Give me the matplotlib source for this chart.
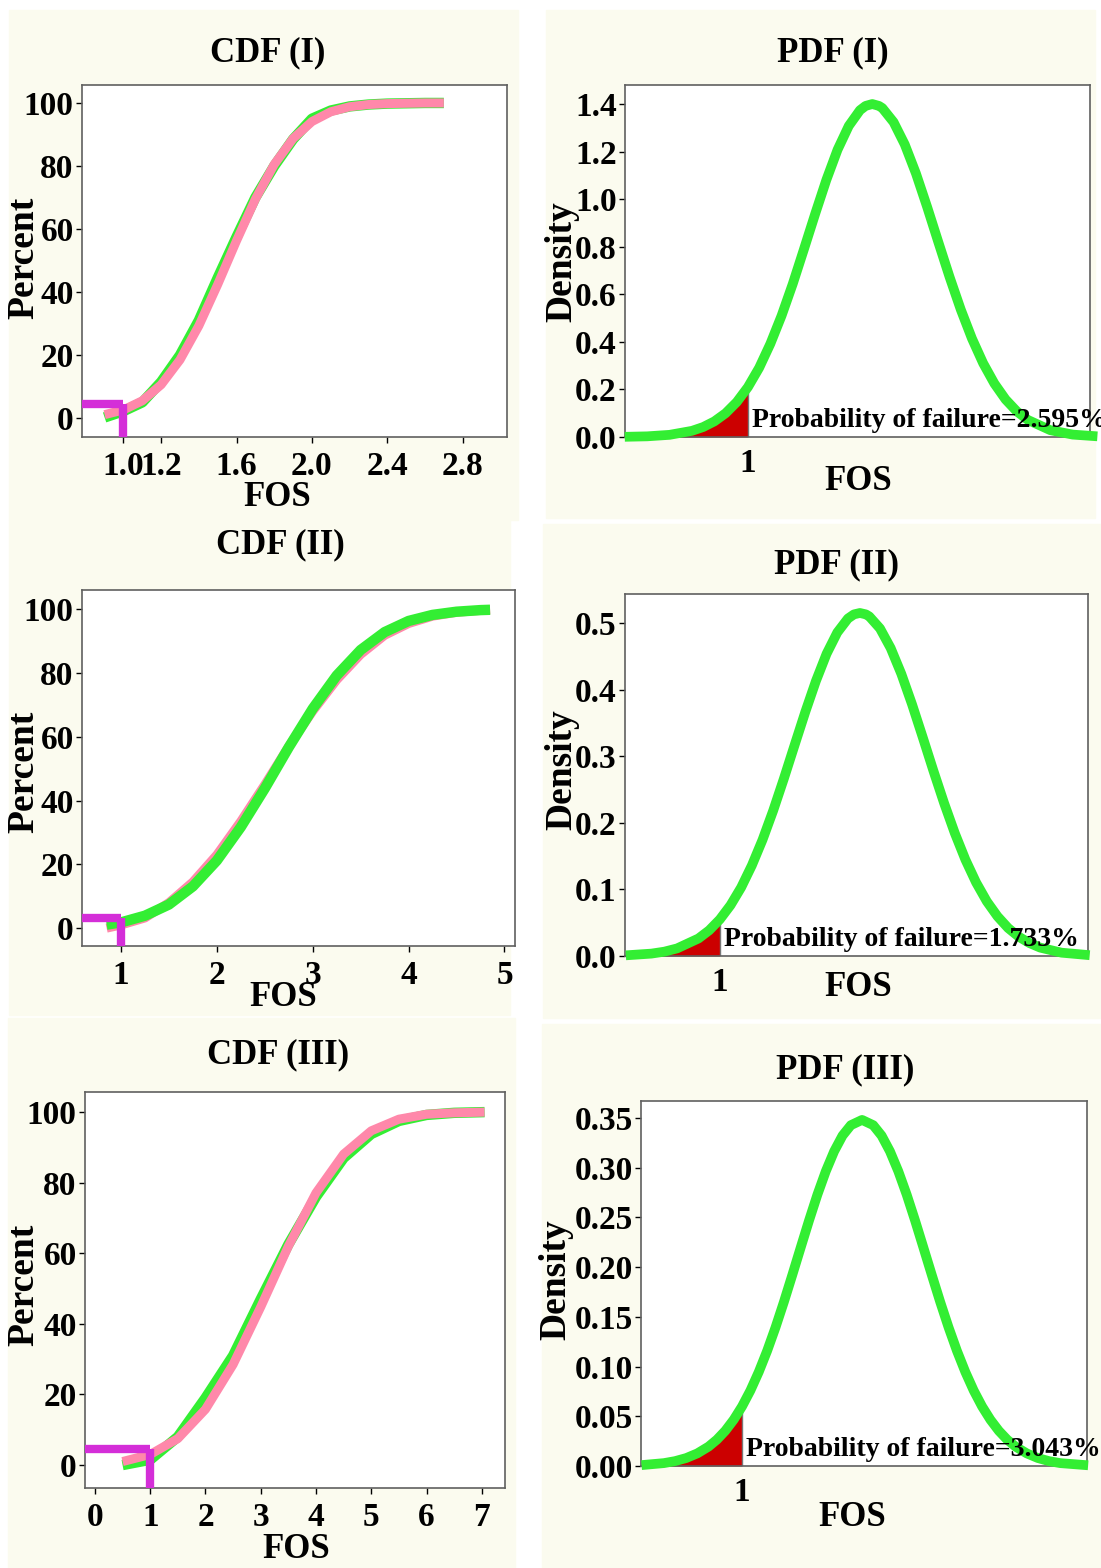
import matplotlib
matplotlib.use('Agg')
import matplotlib.pyplot as plt
from matplotlib.patches import Rectangle
import numpy as np

plt.rcParams['font.family'] = ['Liberation Serif', 'DejaVu Serif']
plt.rcParams['font.weight'] = 'bold'

W, H = 1101, 1568

# ---- CDF data (FOS, percent) ----
cdf1_x = [0.90, 1.00, 1.10, 1.20, 1.30, 1.40, 1.50, 1.60, 1.70, 1.80,
          1.90, 2.00, 2.10, 2.20, 2.30, 2.40, 2.50, 2.60, 2.70]
cdf1_fit = [1.1, 2.6, 5.5, 10.6, 18.5, 29.3, 42.4, 56.3, 69.5, 80.5,
            88.7, 94.1, 97.2, 98.8, 99.5, 99.8, 99.9, 100.0, 100.0]
cdf1_emp = [0.2, 2.2, 5.0, 11.5, 20.0, 31.0, 44.5, 57.5, 70.0, 80.0,
            88.5, 95.0, 97.6, 98.9, 99.5, 99.8, 99.9, 100.0, 100.0]

cdf2_x = [0.85, 1.00, 1.25, 1.50, 1.75, 2.00, 2.25, 2.50, 2.75, 3.00,
          3.25, 3.50, 3.75, 4.00, 4.25, 4.50, 4.75, 4.85]
cdf2_fit = [0.0, 1.0, 3.2, 8.0, 14.5, 23.0, 33.5, 45.0, 57.0, 68.0,
            77.8, 85.8, 91.8, 95.5, 97.8, 99.0, 99.6, 99.8]
cdf2_emp = [1.1, 1.8, 3.9, 7.4, 13.1, 21.2, 31.7, 43.8, 56.7, 68.8,
            79.2, 87.2, 92.8, 96.3, 98.2, 99.2, 99.7, 99.8]

cdf3_x = [0.5, 1.0, 1.5, 2.0, 2.5, 3.0, 3.5, 4.0, 4.5, 5.0, 5.5, 6.0, 6.5, 7.05]
cdf3_fit = [1.0, 3.0, 7.5, 15.8, 28.5, 44.8, 62.0, 77.1, 88.1, 94.7, 98.0, 99.4, 99.8, 100.0]
cdf3_emp = [0.0, 1.5, 8.0, 19.0, 31.0, 47.0, 62.5, 76.0, 87.0, 93.8, 97.5, 99.2, 99.8, 100.0]

# probability-of-failure marker level (%) and limit FOS
pf_marker = [4.4, 3.3, 4.5]
fos_limit = 1.0

# ---- PDF data (FOS, density) ----
pdf1_x = [0.45, 0.55, 0.65, 0.75, 0.80, 0.85, 0.90, 0.95, 1.00, 1.05,
          1.10, 1.15, 1.20, 1.25, 1.30, 1.35, 1.40, 1.45, 1.50, 1.525,
          1.555, 1.585, 1.60, 1.65, 1.70, 1.75, 1.80, 1.85, 1.90, 1.95,
          2.00, 2.05, 2.10, 2.15, 2.20, 2.25, 2.35, 2.45, 2.56]
pdf1_y = [0.0008, 0.0028, 0.0091, 0.0259, 0.0419, 0.0657, 0.0998, 0.147, 0.210, 0.291,
          0.392, 0.510, 0.644, 0.790, 0.938, 1.081, 1.208, 1.308, 1.374, 1.392,
          1.400, 1.392, 1.383, 1.324, 1.230, 1.108, 0.967, 0.819, 0.673, 0.536,
          0.414, 0.310, 0.225, 0.158, 0.108, 0.0716, 0.0286, 0.0101, 0.0028]

pdf2_x = [-0.10, 0.20, 0.35, 0.50, 0.75, 0.875, 1.00, 1.125, 1.25, 1.375,
          1.50, 1.625, 1.75, 1.875, 2.00, 2.125, 2.25, 2.375, 2.50, 2.57,
          2.64, 2.71, 2.75, 2.875, 3.00, 3.125, 3.25, 3.375, 3.50, 3.625,
          3.75, 3.875, 4.00, 4.125, 4.25, 4.375, 4.50, 4.625, 4.75, 5.00, 5.33]
pdf2_y = [0.0010, 0.0036, 0.0065, 0.0114, 0.0263, 0.0385, 0.0549, 0.0762, 0.103, 0.136,
          0.1745, 0.2184, 0.2664, 0.3165, 0.3662, 0.4129, 0.4538, 0.4857, 0.5067, 0.5129,
          0.515, 0.5129, 0.5098, 0.4918, 0.4623, 0.4235, 0.3779, 0.3285, 0.2782, 0.2297,
          0.1847, 0.1446, 0.1104, 0.0821, 0.0596, 0.0420, 0.0289, 0.0194, 0.0126, 0.0050, 0.0012]

pdf3_x = [-0.80, -0.40, -0.20, 0.00, 0.20, 0.40, 0.55, 0.70, 0.85, 1.00,
          1.15, 1.30, 1.45, 1.60, 1.75, 1.90, 2.05, 2.20, 2.35, 2.50,
          2.65, 2.80, 2.95, 3.15, 3.35, 3.50, 3.65, 3.80, 3.95, 4.10,
          4.25, 4.40, 4.55, 4.70, 4.85, 5.00, 5.15, 5.30, 5.45, 5.60,
          5.75, 5.90, 6.10, 6.30, 6.50, 6.70, 7.20]
pdf3_y = [0.0009, 0.0029, 0.0049, 0.0080, 0.0127, 0.0195, 0.0265, 0.0354, 0.0465, 0.0599,
          0.0759, 0.0946, 0.1158, 0.1394, 0.1650, 0.1920, 0.2195, 0.2468, 0.2728, 0.2963,
          0.3164, 0.3322, 0.3427, 0.348, 0.3427, 0.3322, 0.3164, 0.2963, 0.2728, 0.2468,
          0.2195, 0.1920, 0.1650, 0.1394, 0.1158, 0.0946, 0.0759, 0.0599, 0.0465, 0.0354,
          0.0265, 0.0195, 0.0127, 0.0080, 0.0049, 0.0029, 0.0007]

pf_labels = ['Probability of failure=2.595%',
             'Probability of failure=1.733%',
             'Probability of failure=3.043%']

green = '#33EE33'
pink = '#FF88AA'
magenta = '#D42ED8'
red = '#CC0000'
cream = '#FBFBEF'
frame = '#606060'

fig = plt.figure(figsize=(W / 100, H / 100), dpi=100, facecolor='white')


def px_axes(l, t, r, b):
    return fig.add_axes([l / W, 1 - b / H, (r - l) / W, (b - t) / H])


def ftext(x, y, s, size, rot=0):
    fig.text(x / W, 1 - y / H, s, fontsize=size, ha='center', va='center',
             rotation=rot, fontweight='bold')


# cream panel backgrounds
for (x0, y0, x1, y1) in [(9, 10, 518, 520), (546, 10, 1095, 518),
                         (9, 520, 510, 1015), (543, 524, 1101, 1018),
                         (8, 1018, 515, 1568), (542, 1024, 1101, 1568)]:
    fig.add_artist(Rectangle((x0 / W, 1 - y1 / H), (x1 - x0) / W, (y1 - y0) / H,
                             transform=fig.transFigure, color=cream, zorder=0))


def style(ax):
    for sp in ax.spines.values():
        sp.set_color(frame)
        sp.set_linewidth(1.2)
    ax.tick_params(colors='black', labelsize=24, length=4, width=1, pad=2)
    ax.set_facecolor('white')


# ---- CDF panels ----
cdf_specs = [
    ((82, 85, 507, 437), (0.78, 3.035), (-6, 105.7), cdf1_x, cdf1_emp, cdf1_fit,
     [1.0, 1.2, 1.6, 2.0, 2.4, 2.8], ['1.0', '1.2', '1.6', '2.0', '2.4', '2.8'], 'pink'),
    ((82, 590, 515, 946), (0.593, 5.11), (-5.6, 106), cdf2_x, cdf2_emp, cdf2_fit,
     [1, 2, 3, 4, 5], ['1', '2', '3', '4', '5'], 'green'),
    ((85, 1092, 505, 1488), (-0.18, 7.42), (-6.5, 105.7), cdf3_x, cdf3_emp, cdf3_fit,
     [0, 1, 2, 3, 4, 5, 6, 7], ['0', '1', '2', '3', '4', '5', '6', '7'], 'pink'),
]

for i, (box, xl, yl, xs, emp, fit, xt, xtl, top) in enumerate(cdf_specs):
    ax = px_axes(*box)
    style(ax)
    zg, zp = (2, 3) if top == 'pink' else (3, 2)
    ax.plot(xs, emp, color=green, lw=7.5, zorder=zg, solid_capstyle='butt',
            solid_joinstyle='round')
    ax.plot(xs, fit, color=pink, lw=6.5, zorder=zp, solid_capstyle='butt',
            solid_joinstyle='round')
    ax.plot([xl[0], fos_limit], [pf_marker[i], pf_marker[i]], color=magenta, lw=6,
            zorder=4, solid_capstyle='butt')
    ax.plot([fos_limit, fos_limit], [pf_marker[i], yl[0]], color=magenta, lw=6,
            zorder=4, solid_capstyle='butt')
    ax.set_xlim(*xl)
    ax.set_ylim(*yl)
    ax.set_xticks(xt)
    ax.set_xticklabels(xtl)
    ax.set_yticks([0, 20, 40, 60, 80, 100])
    ax.tick_params(axis='x', pad=6)

# ---- PDF panels ----
pdf_specs = [
    ((625, 85, 1090, 437), (0.451, 2.527), (0, 1.48), pdf1_x, pdf1_y,
     [0.0, 0.2, 0.4, 0.6, 0.8, 1.0, 1.2, 1.4], '{:.1f}'),
    ((625, 594, 1088, 956), (-0.11, 5.31), (0, 0.5435), pdf2_x, pdf2_y,
     [0.0, 0.1, 0.2, 0.3, 0.4, 0.5], '{:.1f}'),
    ((641, 1101, 1087, 1466), (-0.81, 7.18), (0, 0.367), pdf3_x, pdf3_y,
     [0.0, 0.05, 0.10, 0.15, 0.20, 0.25, 0.30, 0.35], '{:.2f}'),
]

for i, (box, xl, yl, xs, ys, yt, fmt) in enumerate(pdf_specs):
    ax = px_axes(*box)
    style(ax)
    xs = np.array(xs)
    ys = np.array(ys)
    m = xs <= fos_limit
    ax.fill_between(xs[m], 0, ys[m], color=red, lw=0, zorder=2)
    ax.vlines(fos_limit, 0, ys[m][-1], color='#777777', lw=1, zorder=2)
    ax.plot(xs, ys, color=green, lw=7, zorder=3, clip_on=False,
            solid_joinstyle='round', solid_capstyle='butt')
    ax.annotate(pf_labels[i], xy=(fos_limit, 0), xytext=(3, 7),
                textcoords='offset points', fontsize=20, fontweight='bold',
                ha='left', va='baseline', zorder=5, annotation_clip=False)
    ax.set_xlim(*xl)
    ax.set_ylim(*yl)
    ax.set_xticks([fos_limit])
    ax.set_xticklabels(['1'])
    ax.set_yticks(yt)
    ax.set_yticklabels([fmt.format(v) for v in yt])
    ax.tick_params(axis='x', length=0, pad=8)

# titles and axis labels
for (x, y, s) in [(268, 53, 'CDF (I)'), (833, 53, 'PDF (I)'),
                  (280, 545, 'CDF (II)'), (836, 565, 'PDF (II)'),
                  (278, 1055, 'CDF (III)'), (845, 1070, 'PDF (III)')]:
    ftext(x, y, s, 25)

for (x, y, s) in [(24, 258, 'Percent'), (562, 262, 'Density'),
                  (24, 772, 'Percent'), (562, 770, 'Density'),
                  (24, 1285, 'Percent'), (556, 1280, 'Density')]:
    ftext(x, y, s, 27, rot=90)

for (x, y) in [(277, 497), (858, 481), (283, 997), (858, 988), (296, 1550), (852, 1518)]:
    ftext(x, y, 'FOS', 25)

fig.savefig('out.png', dpi=100, facecolor='white')
